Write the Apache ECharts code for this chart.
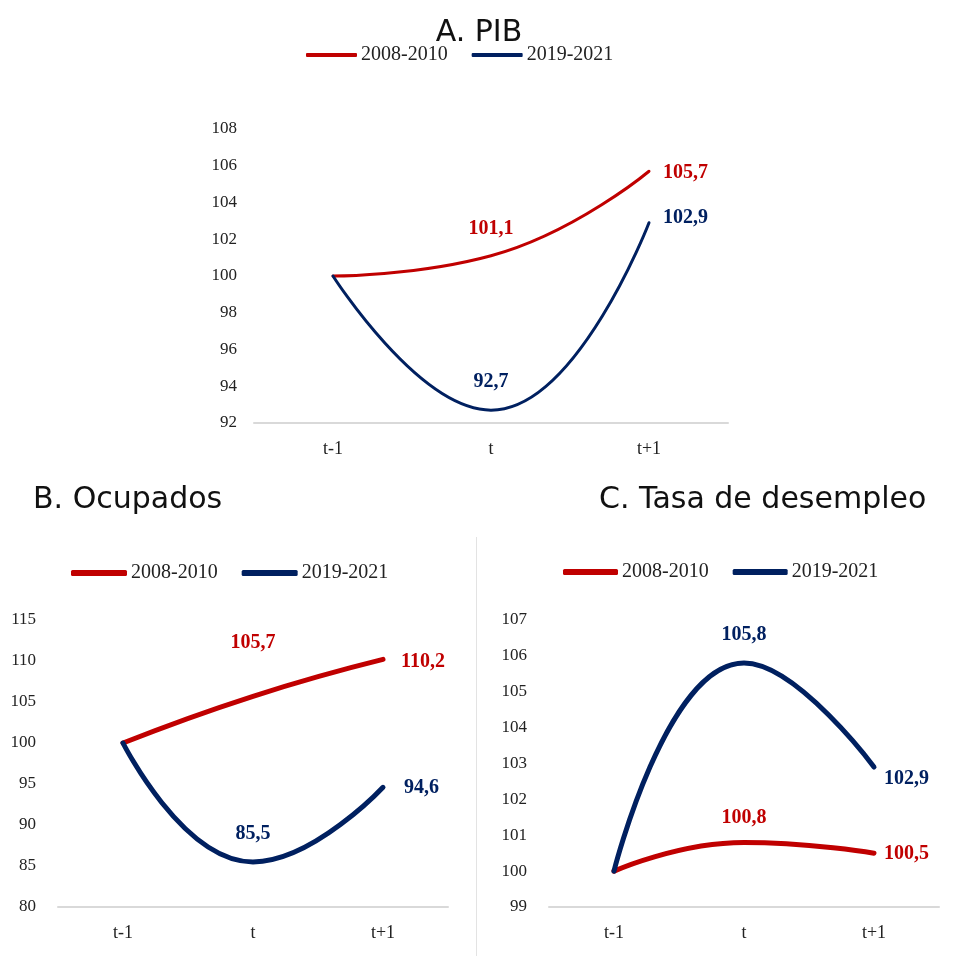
<!DOCTYPE html>
<html>
<head>
<meta charset="utf-8">
<script src="https://cdn.jsdelivr.net/npm/echarts@6/dist/echarts.min.js"></script>
<style>html,body{margin:0;padding:0;background:#fff}#c{width:958px;height:956px}</style>
</head>
<body>
<div id="c"></div>
<script>
const categories = ['t-1', 't', 't+1'];
const seriesNames = ['2008-2010', '2019-2021'];
const pibRed = [100, 101.1, 105.7];
const pibBlue = [100, 92.7, 102.9];
const ocuRed = [100, 105.7, 110.2];
const ocuBlue = [100, 85.5, 94.6];
const desRed = [100, 100.8, 100.5];
const desBlue = [100, 105.8, 102.9];
const titles = ['A. PIB', 'B. Ocupados', 'C. Tasa de desempleo'];

const RED = '#C00000', BLUE = '#002060';
const serif = '"Liberation Serif","Times New Roman",serif';
const sans = '"DejaVu Sans","Noto Sans",sans-serif';

function fmt(v){ return String(v).replace('.', ','); }

function mkData(arr, lbl){
  return arr.map((v, i) => {
    if (i === 0) return {value: v, label: {show: false}};
    const l = lbl[i - 1];
    return {value: v, label: Object.assign({show: true}, l)};
  });
}

function line(name, arr, color, width, gi, lbl){
  return {
    name: name, type: 'line', xAxisIndex: gi, yAxisIndex: gi,
    data: mkData(arr, lbl), smooth: 0.5,
    symbol: 'circle', symbolSize: 0.01, showSymbol: true,
    lineStyle: {color: color, width: width, cap: 'round', join: 'round'},
    itemStyle: {color: color},
    label: {show: true, color: color, fontFamily: serif, fontWeight: 'bold', fontSize: 20,
      formatter: p => fmt(p.value)},
    labelLayout: {hideOverlap: false},
    z: gi === 2 && color === BLUE ? 3 : 2
  };
}
// label to the right of the point, dx px right and dy px down from it
function rightLbl(dx, dy){ return {position: [dx, dy], align: 'left', verticalAlign: 'middle'}; }

const grids = [
  {left: 254, top: 129, width: 474, height: 294},
  {left: 58, top: 620, width: 390, height: 287},
  {left: 549, top: 620, width: 390, height: 287}
];
const yRanges = [[92, 108, 2], [80, 115, 5], [99, 107, 1]];

const xAxes = grids.map((g, i) => ({
  type: 'category', gridIndex: i, data: categories, boundaryGap: true,
  axisLine: {lineStyle: {color: '#d9d9d9', width: 2}}, axisTick: {show: false},
  axisLabel: {color: '#222', fontFamily: serif, fontSize: 18, margin: 17}
}));
const yAxes = yRanges.map((r, i) => ({
  type: 'value', gridIndex: i, min: r[0], max: r[1], interval: r[2],
  axisLine: {show: false}, axisTick: {show: false}, splitLine: {show: false},
  axisLabel: {color: '#222', fontFamily: serif, fontSize: 17, margin: i === 0 ? 17 : 22}
}));

const legendCommon = (left, top, w, h, gap) => ({
  left: left, top: top, itemWidth: w, itemHeight: h, itemGap: gap,
  icon: 'roundRect', data: seriesNames, selectedMode: false,
  textStyle: {fontFamily: serif, fontSize: 20, color: '#222', padding: [0, 0, 0, -1]}
});

const titleStyle = {fontFamily: sans, fontWeight: 'normal', fontSize: 30, color: '#111'};

const option = {
  animation: false,
  backgroundColor: '#fff',
  title: [
    {text: titles[0], left: 'center', top: 13, textStyle: titleStyle},
    {text: titles[1], left: 28, top: 480, textStyle: titleStyle},
    {text: titles[2], left: 594, top: 480, textStyle: titleStyle}
  ],
  legend: [
    legendCommon(301, 40, 51, 4, 24),
    legendCommon(66, 558, 56, 6, 24),
    legendCommon(558, 557, 55, 6, 24)
  ],
  grid: grids,
  xAxis: xAxes,
  yAxis: yAxes,
  graphic: [{type: 'line', shape: {x1: 476.5, y1: 537, x2: 476.5, y2: 956}, style: {stroke: '#e3e3e3', lineWidth: 1}}],
  series: [
    line(seriesNames[0], pibRed, RED, 3, 0, [{position: 'top', distance: 17}, rightLbl(14, 2)]),
    line(seriesNames[1], pibBlue, BLUE, 3, 0, [{position: 'top', distance: 18}, rightLbl(14, -5)]),
    line(seriesNames[0], ocuRed, RED, 5, 1, [{position: 'top', distance: 43}, rightLbl(18, 2)]),
    line(seriesNames[1], ocuBlue, BLUE, 5, 1, [{position: 'top', distance: 18}, rightLbl(21, 1)]),
    line(seriesNames[0], desRed, RED, 5, 2, [{position: 'top', distance: 15}, rightLbl(10, 1)]),
    line(seriesNames[1], desBlue, BLUE, 5, 2, [{position: 'top', distance: 18}, rightLbl(10, 12)])
  ]
};
const chart = echarts.init(document.getElementById('c'));
chart.setOption(option);
</script>
</body>
</html>
